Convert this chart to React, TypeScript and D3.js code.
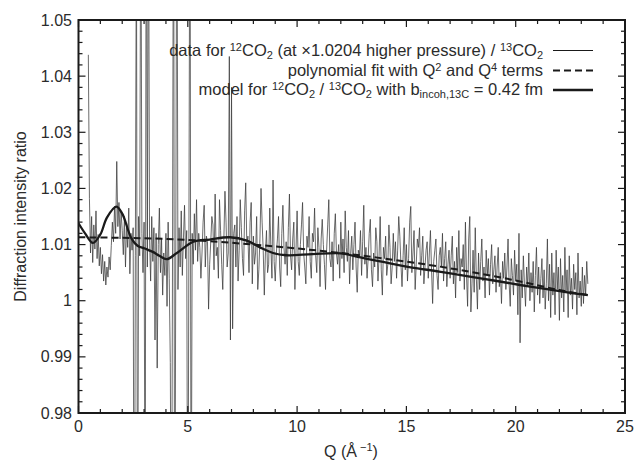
import React from "react";
import * as d3 from "d3";

// ---- data ----
const qStart = 0.45;
const qStep = 0.05;
// diffraction intensity ratio data, 12CO2 / 13CO2
const ratioData: number[] = [
  // 0.45 - 0.95
  1.0438, 1.0182, 1.0085, 1.015, 1.0068, 1.0135, 1.0092, 1.016, 1.0075, 1.0118, 1.0062,
  // 1.0 - 1.45
  1.0095, 1.0048, 1.0082, 1.0035, 1.007, 1.0028, 1.006, 1.0042, 1.0078, 1.0055,
  // 1.5 - 1.95
  1.0098, 1.014, 1.0105, 1.0168, 1.012, 1.0248, 1.0132, 1.0175, 1.011, 1.0158,
  // 2.0 - 2.45
  1.0125, 1.0082, 1.015, 1.006, 1.0138, 1.0095, 1.0165, 1.0048, 1.012, 1.009,
  // 2.5 - 2.95
  1.013, 0.93, 1.008, 1.07, 0.94, 1.015, 1.008, 1.08, 1.012, 1.005,
  // 3.0 - 3.45
  1.014, 0.95, 1.09, 1.006, 1.08, 1.011, 1.0035, 1.015, 1.007, 1.013,
  // 3.5 - 3.95
  0.993, 1.012, 0.988, 1.01, 1.0165, 1.005, 1.011, 1.001, 1.0085, 1.0045,
  // 4.0 - 4.45
  1.012, 0.999, 1.014, 1.004, 0.989, 0.94, 1.006, 1.09, 0.935, 1.008,
  // 4.5 - 4.95
  1.085, 1.002, 1.013, 1.006, 1.016, 1.0045, 1.011, 1.017, 1.0075, 1.0125,
  // 5.0 - 5.45
  0.94, 1.01, 1.09, 0.945, 1.012, 1.0065, 1.0155, 1.009, 1.018, 1.007,
  // 5.5 - 5.95
  1.012, 1.0095, 1.004, 1.0085, 1.014, 1.017, 1.006, 1.0115, 1.0105, 0.9985,
  // 6.0 - 6.45
  1.0065, 1.0105, 1.015, 1.0135, 1.0055, 1.019, 1.008, 1.0095, 1.004, 1.018,
  // 6.5 - 6.95
  1.0125, 1.0065, 1.002, 1.011, 1.0195, 1.014, 1.006, 1.0085, 1.0435, 0.993,
  // 7.0 - 7.45
  1.038, 0.995, 1.012, 1.0135, 1.006, 1.015, 1.0035, 1.009, 1.018, 1.013,
  // 7.5 - 7.95
  1.0075, 1.0045, 1.016, 1.021, 1.01, 1.0115, 1.005, 1.014, 1.0175, 1.003,
  // 8.0 - 8.45
  1.0115, 1.0065, 1.0085, 1.015, 1.002, 1.0055, 1.011, 1.02, 1.014, 1.009,
  // 8.5 - 8.95
  1.001, 1.0085, 1.0125, 1.005, 1.0065, 1.0165, 1.0095, 1.004, 1.0215, 1.007,
  // 9.0 - 9.45
  1.0035, 1.0085, 1.011, 1.015, 1.006, 1.0025, 1.012, 1.017, 1.0095, 1.0065,
  // 9.5 - 9.95
  1.0105, 1.0045, 1.013, 1.019, 1.008, 1.0055, 1.011, 1.014, 1.002, 1.009,
  // 10.0 - 10.45
  1.016, 1.007, 1.0045, 1.01, 1.0135, 1.0175, 1.0085, 1.006, 1.003, 1.0115,
  // 10.5 - 10.95
  1.0095, 1.015, 1.007, 1.004, 1.012, 1.0105, 1.0165, 1.008, 1.005, 1.013,
  // 11.0 - 11.45
  1.0095, 1.0025, 1.011, 1.0145, 1.01, 1.0065, 1.002, 1.009, 1.0135, 1.018,
  // 11.5 - 11.95
  1.0075, 1.006, 1.0105, 1.0035, 1.012, 1.0155, 1.0085, 1.0065, 1.01, 1.004,
  // 12.0 - 12.45
  1.014, 1.0075, 1.011, 1.005, 1.016, 1.0095, 1.007, 1.0125, 1.003, 1.0085,
  // 12.5 - 12.95
  1.0115, 1.0055, 1.01, 1.014, 1.006, 1.0015, 1.009, 1.008, 1.0125, 1.0045,
  // 13.0 - 13.45
  1.0105, 1.017, 1.0065, 1.0095, 1.004, 1.0075, 1.012, 1.0145, 1.0055, 1.0025,
  // 13.5 - 13.95
  1.0085, 1.006, 1.013, 1.0105, 1.0035, 1.008, 1.015, 1.0055, 1.001, 1.0095,
  // 14.0 - 14.45
  1.0075, 1.0115, 1.0045, 1.0065, 1.0135, 1.0095, 1.003, 1.006, 1.012, 1.007,
  // 14.5 - 14.95
  1.0105, 1.004, 1.009, 1.015, 1.0115, 1.0065, 1.0025, 1.008, 1.013, 1.0055,
  // 15.0 - 15.45
  1.01, 1.0035, 1.0075, 1.014, 1.0168, 1.005, 1.0085, 1.0125, 1.002, 1.0065,
  // 15.5 - 15.95
  1.011, 1.0095, 1.013, 1.0045, 1.008, 1.0115, 1.003, 1.006, 1.009, 1.0105,
  // 16.0 - 16.45
  1.004, 1.0085, 1.0125, 1.0055, 0.9995, 1.007, 1.009, 1.011, 1.0045, 1.002,
  // 16.5 - 16.95
  1.008, 1.0095, 1.006, 1.012, 1.0035, 1.0075, 1.0105, 1.0025, 1.0065, 1.009,
  // 17.0 - 17.45
  1.004, 1.008, 1.0115, 1.003, 1.007, 1.0005, 1.0095, 1.005, 1.0125, 1.0035,
  // 17.5 - 17.95
  1.0075, 1.006, 1.01, 1.002, 1.014, 1.0045, 0.999, 1.011, 1.015, 0.998,
  // 18.0 - 18.45
  1.003, 1.009, 1.0015, 1.013, 1.004, 0.9985, 1.0085, 1.002, 1.007, 1.011,
  // 18.5 - 18.95
  1.0035, 1.006, 1.0005, 1.009, 1.0045, 1.0075, 1.001, 1.0065, 1.01, 1.003,
  // 19.0 - 19.45
  1.0055, 1.008, 1.0015, 1.006, 1.0095, 1.0025, 1.005, 0.9995, 1.007, 1.004,
  // 19.5 - 19.95
  1.0085, 1.002, 1.006, 1.011, 1.003, 0.999, 1.0075, 1.0045, 1.001, 1.009,
  // 20.0 - 20.45
  1.0035, 1.0065, 0.9975, 1.012, 0.9925, 1.0055, 1.0005, 1.008, 1.003, 0.999,
  // 20.5 - 20.95
  1.006, 1.0025, 1.0085, 1.0, 1.005, 1.0015, 1.007, 0.998, 1.0045, 1.0095,
  // 21.0 - 21.45
  1.001, 1.006, 0.9995, 1.004, 1.0075, 1.0005, 1.0055, 0.9985, 1.003, 1.011,
  // 21.5 - 21.95
  1.0, 1.0065, 0.997, 1.0085, 1.001, 1.005, 0.9975, 1.009, 1.002, 1.006,
  // 22.0 - 22.45
  0.9965, 1.0075, 1.0005, 1.0045, 0.998, 1.0095, 1.0015, 1.0055, 0.997, 1.008,
  // 22.5 - 22.95
  1.001, 1.004, 0.9985, 1.0065, 1.002, 1.005, 0.9975, 1.0085, 1.0005, 1.0035,
  // 23.0 - 23.3
  0.999, 1.006, 0.9995, 1.0045, 1.001, 1.007, 1.003,
];

// polynomial fit (Q^2 and Q^4 terms)
const fitQ = [0, 2, 4, 6, 8, 10, 12, 14, 16, 18, 20, 22, 23.3];
const fitV = [1.0113, 1.0112, 1.011, 1.0106, 1.01, 1.0093, 1.0085, 1.0075, 1.0064, 1.0051, 1.0036, 1.0019, 1.001];

// model curve
const modelQ = [0, 0.3, 0.66, 1.0, 1.3, 1.73, 2.0, 2.42, 2.7, 3.03, 3.4, 3.7, 4.03, 4.5, 5.25, 6.0, 6.93, 7.7, 8.3, 8.9, 9.5, 10.7, 12.0, 12.9, 13.8, 15.2, 16.5, 17.9, 19.0, 20.2, 21.5, 22.5, 23.3];
const modelV = [1.0138, 1.012, 1.0103, 1.0118, 1.0148, 1.01675, 1.0155, 1.0111, 1.0098, 1.0093, 1.0087, 1.008, 1.0074, 1.0085, 1.0105, 1.0109, 1.0113, 1.0107, 1.0095, 1.0085, 1.0081, 1.0083, 1.00845, 1.0077, 1.007, 1.00595, 1.0052, 1.0043, 1.0036, 1.0028, 1.002, 1.0014, 1.001];

const xTicks = [0, 5, 10, 15, 20, 25];
const yTicks = [0.98, 0.99, 1.0, 1.01, 1.02, 1.03, 1.04, 1.05];
const yTickLabels = ["0.98", "0.99", "1", "1.01", "1.02", "1.03", "1.04", "1.05"];

const W = 637;
const H = 462;
const L = 78.5, R = 625, T = 20, B = 413;
const FONT = "'Liberation Sans', Arial, Helvetica, sans-serif";
const TXT = "#2b2b2b";
const FS = 16;
const LFS = 16.5;
const SUP = 11;

export default function App() {
  const x = d3.scaleLinear().domain([0, 25]).range([L, R]);
  const y = d3.scaleLinear().domain([0.98, 1.05]).range([B, T]);

  const dataPts = ratioData.map((v, i) => [qStart + i * qStep, v] as [number, number]);
  const fitPts = fitQ.map((q, i) => [q, fitV[i]] as [number, number]);
  const modelPts = modelQ.map((q, i) => [q, modelV[i]] as [number, number]);

  const lin = d3.line<[number, number]>().x((d) => x(d[0])).y((d) => y(d[1]));
  const smooth = d3
    .line<[number, number]>()
    .x((d) => x(d[0]))
    .y((d) => y(d[1]))
    .curve(d3.curveCatmullRom.alpha(0.5));

  const xMinor = d3.range(0, 25.001, 1);
  const yMinor = d3.range(0, 36).map((i) => 0.98 + i * 0.002);

  const legendX = 543;
  const lineX0 = 553, lineX1 = 593;
  const rows = [55.5, 75.5, 95];

  return (
    <svg
      width={W}
      height={H}
      style={{ position: "absolute", left: 0, top: 0, background: "#fff" }}
      fontFamily={FONT}
    >
      <defs>
        <clipPath id="plotclip">
          <rect x={L} y={T} width={R - L} height={B - T} />
        </clipPath>
      </defs>

      <g clipPath="url(#plotclip)">
        <path d={lin(dataPts) || ""} fill="none" stroke="#3a3a3a" strokeWidth={0.75} />
        <path d={smooth(fitPts) || ""} fill="none" stroke="#1a1a1a" strokeWidth={2} strokeDasharray="7,4" />
        <path d={smooth(modelPts) || ""} fill="none" stroke="#1a1a1a" strokeWidth={2.3} />
      </g>

      {/* ticks */}
      <g stroke="#1a1a1a" strokeWidth={1.2}>
        {xMinor.map((q) => {
          const len = q % 5 === 0 ? 7 : 4;
          return (
            <g key={"xm" + q}>
              <line x1={x(q)} x2={x(q)} y1={B} y2={B - len} />
              <line x1={x(q)} x2={x(q)} y1={T} y2={T + len} />
            </g>
          );
        })}
        {yMinor.map((v, i) => {
          const len = i % 5 === 0 ? 7 : 4;
          return (
            <g key={"ym" + i}>
              <line x1={L} x2={L + len} y1={y(v)} y2={y(v)} />
              <line x1={R} x2={R - len} y1={y(v)} y2={y(v)} />
            </g>
          );
        })}
      </g>

      {/* frame */}
      <rect x={L} y={T} width={R - L} height={B - T} fill="none" stroke="#1a1a1a" strokeWidth={2} />

      {/* tick labels */}
      <g fill={TXT} fontSize={FS}>
        {xTicks.map((q) => (
          <text key={"xl" + q} x={x(q)} y={432} textAnchor="middle">
            {q}
          </text>
        ))}
        {yTicks.map((v, i) => (
          <text key={"yl" + i} x={72} y={y(v) + 5.5} textAnchor="end">
            {yTickLabels[i]}
          </text>
        ))}
      </g>

      {/* axis titles */}
      <text x={351} y={457} textAnchor="middle" fontSize={FS} fill={TXT}>
        Q (Å
        <tspan dy={-6} fontSize={SUP}> −1</tspan>
        <tspan dy={6}>)</tspan>
      </text>
      <text
        transform={`translate(26, ${(T + B) / 2}) rotate(-90)`}
        textAnchor="middle"
        fontSize={FS}
        fill={TXT}
      >
        Diffraction intensity ratio
      </text>

      {/* legend */}
      <g fontSize={LFS} fill={TXT}>
        <text x={legendX} y={rows[0]} textAnchor="end">
          data for <tspan dy={-5} fontSize={SUP}>12</tspan>
          <tspan dy={5}>CO</tspan>
          <tspan dy={3} fontSize={SUP}>2</tspan>
          <tspan dy={-3}> (at ×1.0204 higher pressure) / </tspan>
          <tspan dy={-5} fontSize={SUP}>13</tspan>
          <tspan dy={5}>CO</tspan>
          <tspan dy={3} fontSize={SUP}>2</tspan>
        </text>
        <text x={legendX} y={rows[1]} textAnchor="end">
          polynomial fit with Q<tspan dy={-5} fontSize={SUP}>2</tspan>
          <tspan dy={5}> and Q</tspan>
          <tspan dy={-5} fontSize={SUP}>4</tspan>
          <tspan dy={5}> terms</tspan>
        </text>
        <text x={legendX} y={rows[2]} textAnchor="end">
          model for <tspan dy={-5} fontSize={SUP}>12</tspan>
          <tspan dy={5}>CO</tspan>
          <tspan dy={3} fontSize={SUP}>2</tspan>
          <tspan dy={-3}> / </tspan>
          <tspan dy={-5} fontSize={SUP}>13</tspan>
          <tspan dy={5}>CO</tspan>
          <tspan dy={3} fontSize={SUP}>2</tspan>
          <tspan dy={-3}> with b</tspan>
          <tspan dy={3} fontSize={SUP}>incoh,13C</tspan>
          <tspan dy={-3}> = 0.42 fm</tspan>
        </text>
      </g>
      <g stroke="#1a1a1a">
        <line x1={lineX0} x2={lineX1} y1={rows[0] - 5} y2={rows[0] - 5} strokeWidth={1} />
        <line x1={lineX0} x2={lineX1} y1={rows[1] - 5} y2={rows[1] - 5} strokeWidth={2} strokeDasharray="7,4" />
        <line x1={lineX0} x2={lineX1} y1={rows[2] - 5} y2={rows[2] - 5} strokeWidth={2.3} />
      </g>
    </svg>
  );
}
